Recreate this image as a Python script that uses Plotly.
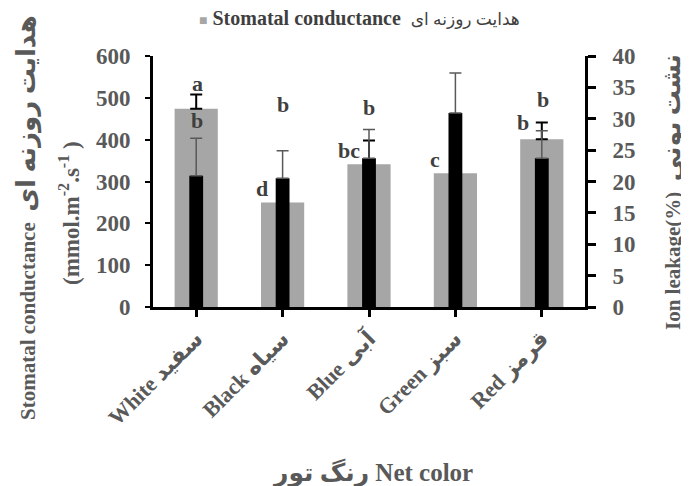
import plotly.graph_objects as go

categories = ["White سفید", "Black سیاه", "Blue آبی", "Green سبز", "Red قرمز"]
stomatal = [474, 250, 341, 320, 401]
stomatal_err = [34, 0, 57, 0, 40]
ion_leakage = [20.9, 20.5, 23.7, 30.9, 23.7]
ion_err = [6.0, 4.4, 4.6, 6.4, 4.4]
stomatal_letters = ["a", "d", "bc", "c", "b"]
ion_letters = ["b", "b", "b", "a", "b"]
left_ticks = [0, 100, 200, 300, 400, 500, 600]
right_ticks = [0, 5, 10, 15, 20, 25, 30, 35, 40]

# annotation layout (positions only)
st_letter_dx = [0.01, -0.24, -0.23, -0.24, -0.22]
st_letter_y = [535, 284, 375, 353, 441]
ion_letter_dx = [0.01, 0.0, 0.0, -0.03, 0.01]
ion_letter_y = [445, 483, 477, 606, 495]

FONT = "Liberation Serif, Times New Roman, DejaVu Sans, serif"
GRAY_TXT = "#595959"
LET_TXT = "#3f3f3f"

fig = go.Figure()
fig.add_trace(go.Bar(
    x=list(range(len(categories))), y=stomatal, width=0.5,
    marker=dict(color="#A6A6A6", line=dict(width=0)),
    name="Stomatal conductance",
    error_y=dict(type="data", array=stomatal_err, arrayminus=[0]*5, symmetric=False,
                 color="#000000", thickness=2, width=6),
    yaxis="y", showlegend=False,
))
fig.add_trace(go.Bar(
    x=list(range(len(categories))), y=ion_leakage, width=0.16,
    marker=dict(color="#000000", line=dict(width=0)),
    name="Ion leakage",
    error_y=dict(type="data", array=ion_err, arrayminus=[0]*5, symmetric=False,
                 color="#595959", thickness=1.5, width=6),
    yaxis="y2", showlegend=False,
))

annotations = []
for i, t in enumerate(stomatal_letters):
    annotations.append(dict(x=i + st_letter_dx[i], y=st_letter_y[i], xref="x", yref="y",
                            text="<b>%s</b>" % t, showarrow=False,
                            xanchor="center", yanchor="middle",
                            font=dict(family=FONT, size=22, color=LET_TXT)))
for i, t in enumerate(ion_letters):
    annotations.append(dict(x=i + ion_letter_dx[i], y=ion_letter_y[i], xref="x", yref="y",
                            text="<b>%s</b>" % t, showarrow=False,
                            xanchor="center", yanchor="middle",
                            font=dict(family=FONT, size=22, color=LET_TXT)))

annotations += [
    # legend
    dict(x=0.477, y=1.151, xref="paper", yref="paper", showarrow=False,
         xanchor="center", yanchor="middle",
         text="<span style='color:#A6A6A6;font-size:14px'>■</span> <b>Stomatal conductance</b>  "
              "<span style='font-size:17px'>هدایت روزنه ای</span>",
         font=dict(family=FONT, size=20, color=LET_TXT)),
    # axis titles
    dict(x=-0.2917, y=0.3586, xref="paper", yref="paper", textangle=-90, showarrow=False,
         xanchor="center", yanchor="middle",
         text="<b>Stomatal conductance  <span style='font-size:26px'>هدایت روزنه ای</span></b>",
         font=dict(family=FONT, size=21, color=GRAY_TXT)),
    dict(x=-0.1944, y=0.3745, xref="paper", yref="paper", textangle=-90, showarrow=False,
         xanchor="center", yanchor="middle",
         text="<b>(mmol.m<sup>-2</sup>.s<sup>-1</sup> )</b>",
         font=dict(family=FONT, size=23, color=GRAY_TXT)),
    dict(x=1.2014, y=0.458, xref="paper", yref="paper", textangle=-90, showarrow=False,
         xanchor="center", yanchor="middle",
         text="<b>Ion leakage(%)  <span style='font-size:25px'>نشت یونی</span></b>",
         font=dict(family=FONT, size=21, color=GRAY_TXT)),
    dict(x=0.507, y=-0.661, xref="paper", yref="paper", showarrow=False,
         xanchor="center", yanchor="middle",
         text="<b>رنگ تور Net color</b>",
         font=dict(family=FONT, size=25, color=GRAY_TXT)),
]

fig.update_layout(
    width=689, height=486,
    margin=dict(l=145, r=112, t=48, b=187, autoexpand=False),
    paper_bgcolor="white", plot_bgcolor="white",
    barmode="overlay",
    showlegend=False,
    font=dict(family=FONT, color=GRAY_TXT),
    xaxis=dict(
        range=[-0.5, 4.5], tickmode="array", tickvals=list(range(len(categories))),
        ticktext=["<b>%s</b>" % c for c in categories], tickangle=-45,
        tickfont=dict(family=FONT, size=22, color=GRAY_TXT),
        showline=True, linecolor="black", linewidth=3,
        ticks="outside", ticklen=7, tickwidth=3, tickcolor="black",
        showgrid=False, zeroline=False, automargin=False,
    ),
    yaxis=dict(
        range=[0, 600], tickvals=left_ticks, ticktext=["<b>%d</b>" % v for v in left_ticks],
        tickfont=dict(family=FONT, size=23, color=GRAY_TXT),
        showline=True, linecolor="black", linewidth=3,
        ticks="outside", ticklen=5, tickwidth=2, tickcolor="black",
        ticklabelstandoff=10,
        showgrid=False, zeroline=False, automargin=False,
    ),
    yaxis2=dict(
        range=[0, 40], overlaying="y", side="right",
        tickvals=right_ticks, ticktext=["<b>%d</b>" % v for v in right_ticks],
        tickfont=dict(family=FONT, size=23, color=GRAY_TXT),
        showline=True, linecolor="black", linewidth=3,
        ticks="outside", ticklen=8, tickwidth=3, tickcolor="black",
        ticklabelstandoff=12,
        showgrid=False, zeroline=False, automargin=False,
    ),
    annotations=annotations,
)

fig.write_html("out.html")
